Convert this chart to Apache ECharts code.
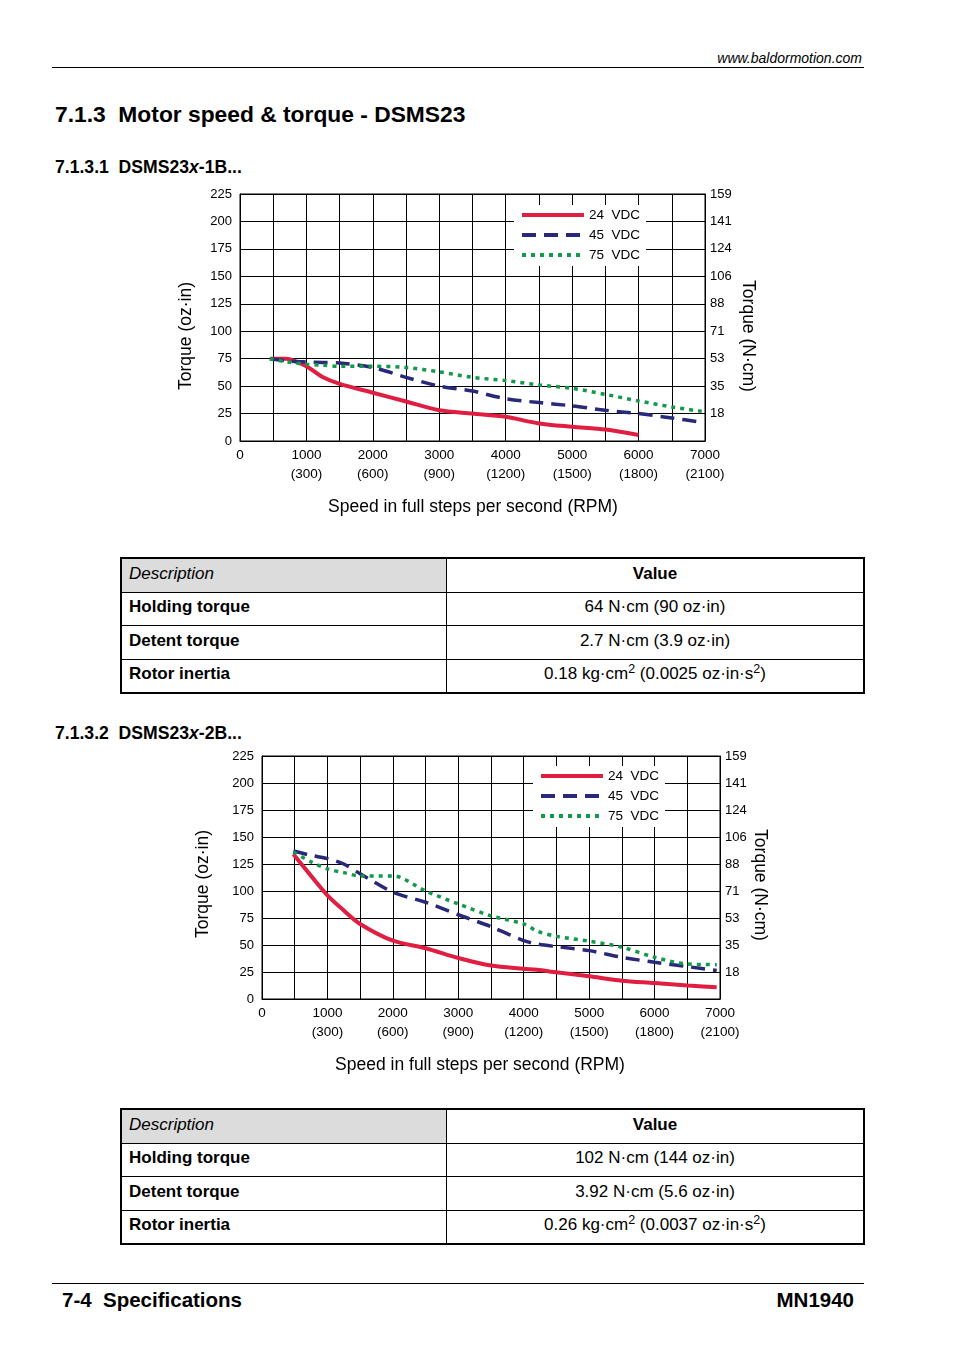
<!DOCTYPE html>
<html>
<head>
<meta charset="utf-8">
<script src="https://cdn.jsdelivr.net/npm/echarts@6/dist/echarts.min.js"></script>
<style>
  html, body { margin:0; padding:0; background:#fff; }
  body { width:954px; height:1352px; position:relative; overflow:hidden; font-family:"Liberation Sans", Arial, sans-serif; color:#000; }
  .abs { position:absolute; white-space:nowrap; }
  .hline { position:absolute; height:1px; background:#000; }
  table.spec { position:absolute; left:120px; width:745px; border-collapse:collapse; table-layout:fixed; border:2px solid #000; font-size:17px; }
  table.spec td { border:1px solid #000; padding:0 7px 3px 7px; height:29.5px; }
  table.spec td.l { width:310px; font-weight:bold; }
  table.spec td.v { text-align:center; }
  table.spec tr.h td.l { background:#dcdcdc; font-weight:normal; font-style:italic; }
  table.spec tr.h td.v { font-weight:bold; }
  sup { font-size:12.5px; vertical-align:6px; line-height:0; }
  #chart { position:absolute; left:0; top:0; width:954px; height:1352px; }
</style>
</head>
<body>
<div class="abs" style="right:92px; top:49px; font-size:14px; font-style:italic; line-height:18px;">www.baldormotion.com</div>
<div class="hline" style="left:52px; width:812px; top:67px;"></div>
<div class="abs" style="left:55px; top:100px; font-size:22.8px; font-weight:bold; line-height:28px;">7.1.3&nbsp; Motor speed &amp; torque - DSMS23</div>
<div class="abs" style="left:55px; top:157px; font-size:17.6px; font-weight:bold; line-height:20px;">7.1.3.1&nbsp; DSMS23<i>x</i>-1B...</div>
<div class="abs" style="left:55px; top:723px; font-size:17.6px; font-weight:bold; line-height:20px;">7.1.3.2&nbsp; DSMS23<i>x</i>-2B...</div>

<table class="spec" style="top:557px;">
  <tr class="h"><td class="l">Description</td><td class="v">Value</td></tr>
  <tr><td class="l">Holding torque</td><td class="v">64 N·cm (90 oz·in)</td></tr>
  <tr><td class="l">Detent torque</td><td class="v">2.7 N·cm (3.9 oz·in)</td></tr>
  <tr><td class="l">Rotor inertia</td><td class="v">0.18 kg·cm<sup>2</sup> (0.0025 oz·in·s<sup>2</sup>)</td></tr>
</table>

<table class="spec" style="top:1108px;">
  <tr class="h"><td class="l">Description</td><td class="v">Value</td></tr>
  <tr><td class="l">Holding torque</td><td class="v">102 N·cm (144 oz·in)</td></tr>
  <tr><td class="l">Detent torque</td><td class="v">3.92 N·cm (5.6 oz·in)</td></tr>
  <tr><td class="l">Rotor inertia</td><td class="v">0.26 kg·cm<sup>2</sup> (0.0037 oz·in·s<sup>2</sup>)</td></tr>
</table>

<div class="hline" style="left:52px; width:812px; top:1283px;"></div>
<div class="abs" style="left:62px; top:1288px; font-size:20.5px; font-weight:bold; line-height:24px;">7-4&nbsp; Specifications</div>
<div class="abs" style="right:100px; top:1288px; font-size:20.5px; font-weight:bold; line-height:24px;">MN1940</div>

<div id="chart"></div>
<script>
// ---- tick labels ----
var rpmLabels = {1000:'300', 2000:'600', 3000:'900', 4000:'1200', 5000:'1500', 6000:'1800', 7000:'2100'};
var rightTicks = ['', '18', '35', '53', '71', '88', '106', '124', '141', '159'];
var seriesNames = ['24  VDC', '45  VDC', '75  VDC'];

// ---- chart 1 : DSMS23x-1B (speed in full steps/s, torque in oz·in) ----
var speed1 = [450, 700, 1000, 1250, 1500, 2000, 2500, 3000, 3500, 4000, 4500, 5000, 5500, 6000, 6500, 6950];
var v24_1  = [75, 75, 68, 58, 52, 44, 36, 28, 25, 22, 16, 13, 10.5, 5.5, null, null];
var v45_1  = [75, 73, 72, 71.5, 71, 67, 58, 50, 45.5, 38.5, 35, 32, 28, 25, 21, 17];
var v75_1  = [75, 72, 70, 69, 68, 68, 67, 63, 58, 55, 51, 48, 42.5, 36.5, 31, 27];

// ---- chart 2 : DSMS23x-2B ----
var speed2 = [480, 750, 1000, 1250, 1500, 2000, 2500, 3000, 3500, 4000, 4200, 4500, 5000, 5500, 6000, 6500, 6950];
var v24_2  = [134, 114, 96, 82, 69.5, 54, 47, 38, 31, 28, 27, 24.7, 21, 17, 14.8, 12.4, 10.8];
var v45_2  = [137, 133, 130, 125, 116, 99, 89.6, 78, 67, 54, 51, 48.5, 44.8, 38.6, 34, 30, 26.3];
var v75_2  = [136, 127, 120.5, 117, 114, 114, 100, 88, 77, 69.5, 63, 58, 53.5, 48, 38.6, 32.4, 31.8];

function pairs(xs, ys) {
  var out = [];
  for (var i = 0; i < xs.length; i++) { if (ys[i] != null) out.push([xs[i], ys[i]]); }
  return out;
}

var FONT = '"Liberation Sans", Arial, sans-serif';
var styles = [
  {color:'#e01e42', width:4, type:'solid'},
  {color:'#2a2878', width:3.5, type:[14, 8]},
  {color:'#12994a', width:3.5, type:[4, 5]}
];

function xAxisFor(g) {
  return {
    gridIndex:g, type:'value', min:0, max:7000, interval:500,
    axisLine:{show:true, lineStyle:{color:'#000', width:1}},
    axisTick:{show:false},
    splitLine:{show:true, lineStyle:{color:'#000', width:1}},
    axisLabel:{
      color:'#000', fontSize:13.5, fontFamily:FONT, lineHeight:19, margin:5,
      verticalAlign:'top',
      formatter:function(v){
        if (v === 0) return '0';
        if (v % 1000 !== 0) return '';
        return v + '\n(' + rpmLabels[v] + ')';
      }
    }
  };
}
function yLeftFor(g) {
  return {
    gridIndex:g, type:'value', min:0, max:225, interval:25, position:'left',
    axisLine:{show:true, lineStyle:{color:'#000', width:1}},
    axisTick:{show:false},
    splitLine:{show:true, lineStyle:{color:'#000', width:1}},
    axisLabel:{color:'#000', fontSize:13, fontFamily:FONT, margin:8}
  };
}
function yRightFor(g) {
  return {
    gridIndex:g, type:'value', min:0, max:225, interval:25, position:'right',
    axisLine:{show:true, lineStyle:{color:'#000', width:1}},
    axisTick:{show:false},
    splitLine:{show:false},
    axisLabel:{color:'#000', fontSize:13, fontFamily:FONT, margin:5,
      formatter:function(v){ return rightTicks[Math.round(v/25)]; }}
  };
}
function lineSeries(name, idx, xs, ys, g) {
  return {
    name:name, type:'line', xAxisIndex:g, yAxisIndex:g*2,
    data:pairs(xs, ys), showSymbol:false, symbol:'none',
    smooth:0.3,
    lineStyle:{color:styles[idx].color, width:styles[idx].width, type:styles[idx].type},
    itemStyle:{color:styles[idx].color},
    z:3
  };
}
function legendFor(left, top) {
  return {
    orient:'vertical', left:left, top:top, itemWidth:62, itemHeight:12, itemGap:6,
    backgroundColor:'#fff', padding:[3, 6, 4, 6],
    data:seriesNames,
    itemStyle:{opacity:0, borderWidth:0},
    lineStyle:{width:4},
    textStyle:{color:'#000', fontSize:13.5, fontFamily:FONT},
    selectedMode:false
  };
}
function titleTexts(cx, cy, lx, ly, rx, ry) {
  var f = '17.5px ' + FONT;
  return [
    {type:'text', x:cx, y:cy, style:{text:'Speed in full steps per second (RPM)', fill:'#000', font:f, textAlign:'center', textVerticalAlign:'middle'}},
    {type:'text', x:lx, y:ly, rotation:Math.PI/2, style:{text:'Torque (oz·in)', fill:'#000', font:f, textAlign:'center', textVerticalAlign:'middle'}},
    {type:'text', x:rx, y:ry, rotation:-Math.PI/2, style:{text:'Torque (N·cm)', fill:'#000', font:f, textAlign:'center', textVerticalAlign:'middle'}}
  ];
}

var chart = echarts.init(document.getElementById('chart'), null, {renderer:'canvas'});
var opt = {
  animation:false,
  backgroundColor:'transparent',
  grid:[
    {left:240, top:194, width:465, height:247, show:true, borderColor:'#000', borderWidth:1, backgroundColor:'transparent'},
    {left:262, top:756, width:458, height:243, show:true, borderColor:'#000', borderWidth:1, backgroundColor:'transparent'}
  ],
  xAxis:[xAxisFor(0), xAxisFor(1)],
  yAxis:[yLeftFor(0), yRightFor(0), yLeftFor(1), yRightFor(1)],
  legend:[legendFor(514, 205), legendFor(533, 766)],
  series:[
    lineSeries(seriesNames[0], 0, speed1, v24_1, 0),
    lineSeries(seriesNames[1], 1, speed1, v45_1, 0),
    lineSeries(seriesNames[2], 2, speed1, v75_1, 0),
    lineSeries(seriesNames[0], 0, speed2, v24_2, 1),
    lineSeries(seriesNames[1], 1, speed2, v45_2, 1),
    lineSeries(seriesNames[2], 2, speed2, v75_2, 1)
  ],
  graphic:[]
};
opt.graphic = [].concat(
  titleTexts(473, 507, 186, 336, 748, 336),
  titleTexts(480, 1065, 203, 884, 760, 885)
);
chart.setOption(opt);
</script>
</body>
</html>
